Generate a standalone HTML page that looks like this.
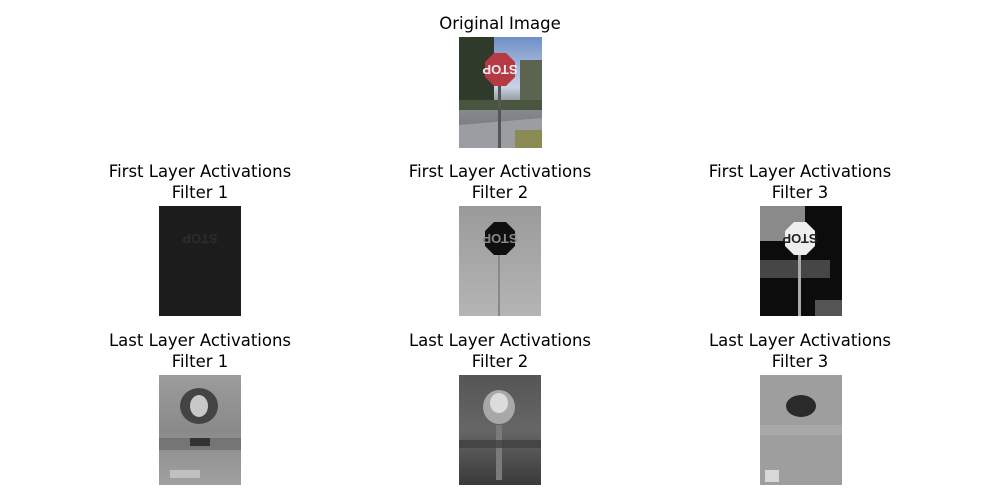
<!DOCTYPE html>
<html><head><meta charset="utf-8">
<style>
html,body{margin:0;padding:0;background:#fff;}
svg{display:block;}
text{font-family:"DejaVu Sans","Liberation Sans",sans-serif;font-size:16.5px;fill:#000;text-anchor:middle;}
.stop{font-family:"Liberation Sans",sans-serif;font-weight:bold;font-size:13px;}
</style></head>
<body>
<svg width="1000" height="500" viewBox="0 0 1000 500">
<defs>
  <linearGradient id="sky" x1="0" y1="0" x2="0" y2="1">
    <stop offset="0" stop-color="#6f8fc8"/><stop offset="0.45" stop-color="#c9d4e6"/><stop offset="0.6" stop-color="#8a8f95"/><stop offset="1" stop-color="#6b6d70"/>
  </linearGradient>
  <linearGradient id="g2" x1="0" y1="0" x2="0" y2="1">
    <stop offset="0" stop-color="#9a9a9a"/><stop offset="0.5" stop-color="#a8a8a8"/><stop offset="1" stop-color="#b4b4b4"/>
  </linearGradient>
  <linearGradient id="l1" x1="0" y1="0" x2="0" y2="1">
    <stop offset="0" stop-color="#9c9c9c"/><stop offset="0.5" stop-color="#8a8a8a"/><stop offset="1" stop-color="#a0a0a0"/>
  </linearGradient>
  <linearGradient id="l2" x1="0" y1="0" x2="0" y2="1">
    <stop offset="0" stop-color="#555"/><stop offset="0.5" stop-color="#666"/><stop offset="1" stop-color="#3a3a3a"/>
  </linearGradient>
</defs>

<g>
  <text x="500" y="29">Original Image</text>
  <rect x="459" y="37" width="83" height="111" fill="url(#sky)"/>
  <rect x="459" y="37" width="35" height="70" fill="#2f3a2a"/>
  <rect x="520" y="60" width="22" height="40" fill="#5a6450"/>
  <rect x="459" y="100" width="83" height="10" fill="#4a5540"/>
  <polygon points="459,125 542,118 542,148 459,148" fill="#9a9ea2"/>
  <rect x="515" y="130" width="27" height="18" fill="#8a8a55"/>
  <rect x="498" y="85" width="3" height="63" fill="#555"/>
  <polygon points="494,53 506,53 515,62 515,77 506,86 494,86 485,77 485,62" fill="#b53a44"/>
  <text class="stop" x="-500" y="-65" transform="rotate(180)" style="fill:#eee">STOP</text>
</g>

<g>
  <text x="200" y="177">First Layer Activations</text>
  <text x="200" y="198">Filter 1</text>
  <rect x="159" y="206" width="82" height="110" fill="#1c1c1c"/>
  <text class="stop" x="-200" y="-234" transform="rotate(180)" style="fill:#2c2c2c">STOP</text>
</g>
<g>
  <text x="500" y="177">First Layer Activations</text>
  <text x="500" y="198">Filter 2</text>
  <rect x="459" y="206" width="82" height="110" fill="url(#g2)"/>
  <rect x="498" y="250" width="2" height="66" fill="#888"/>
  <polygon points="494,222 506,222 515,231 515,246 506,255 494,255 485,246 485,231" fill="#101010"/>
  <text class="stop" x="-500" y="-234" transform="rotate(180)" style="fill:#888">STOP</text>
</g>
<g>
  <text x="800" y="177">First Layer Activations</text>
  <text x="800" y="198">Filter 3</text>
  <rect x="760" y="206" width="82" height="110" fill="#0c0c0c"/>
  <rect x="760" y="206" width="45" height="35" fill="#8a8a8a"/>
  <rect x="760" y="260" width="70" height="18" fill="#555" opacity="0.8"/>
  <rect x="798" y="250" width="3" height="66" fill="#aaa"/>
  <rect x="815" y="300" width="27" height="16" fill="#666" opacity="0.8"/>
  <polygon points="794,222 806,222 815,231 815,246 806,255 794,255 785,246 785,231" fill="#eeeeee"/>
  <text class="stop" x="-800" y="-234" transform="rotate(180)" style="fill:#222">STOP</text>
</g>

<g>
  <text x="200" y="346">Last Layer Activations</text>
  <text x="200" y="367">Filter 1</text>
  <rect x="159" y="375" width="82" height="110" fill="url(#l1)"/>
  <ellipse cx="199" cy="406" rx="19" ry="18" fill="#444"/>
  <ellipse cx="199" cy="406" rx="9" ry="11" fill="#c8c8c8"/>
  <rect x="159" y="438" width="82" height="12" fill="#6a6a6a" opacity="0.7"/>
  <rect x="190" y="438" width="20" height="8" fill="#222" opacity="0.8"/>
  <rect x="170" y="470" width="30" height="8" fill="#d0d0d0" opacity="0.7"/>
</g>
<g>
  <text x="500" y="346">Last Layer Activations</text>
  <text x="500" y="367">Filter 2</text>
  <rect x="459" y="375" width="82" height="110" fill="url(#l2)"/>
  <ellipse cx="499" cy="407" rx="16" ry="17" fill="#a8a8a8"/>
  <ellipse cx="499" cy="403" rx="9" ry="10" fill="#dcdcdc"/>
  <rect x="496" y="425" width="6" height="55" fill="#7a7a7a"/>
  <rect x="459" y="440" width="82" height="8" fill="#3c3c3c" opacity="0.7"/>
</g>
<g>
  <text x="800" y="346">Last Layer Activations</text>
  <text x="800" y="367">Filter 3</text>
  <rect x="760" y="375" width="82" height="110" fill="#9e9e9e"/>
  <ellipse cx="801" cy="406" rx="15" ry="11" fill="#2a2a2a"/>
  <rect x="760" y="425" width="82" height="10" fill="#b0b0b0" opacity="0.6"/>
  <rect x="765" y="470" width="14" height="12" fill="#d8d8d8"/>
</g>
</svg>
</body></html>
